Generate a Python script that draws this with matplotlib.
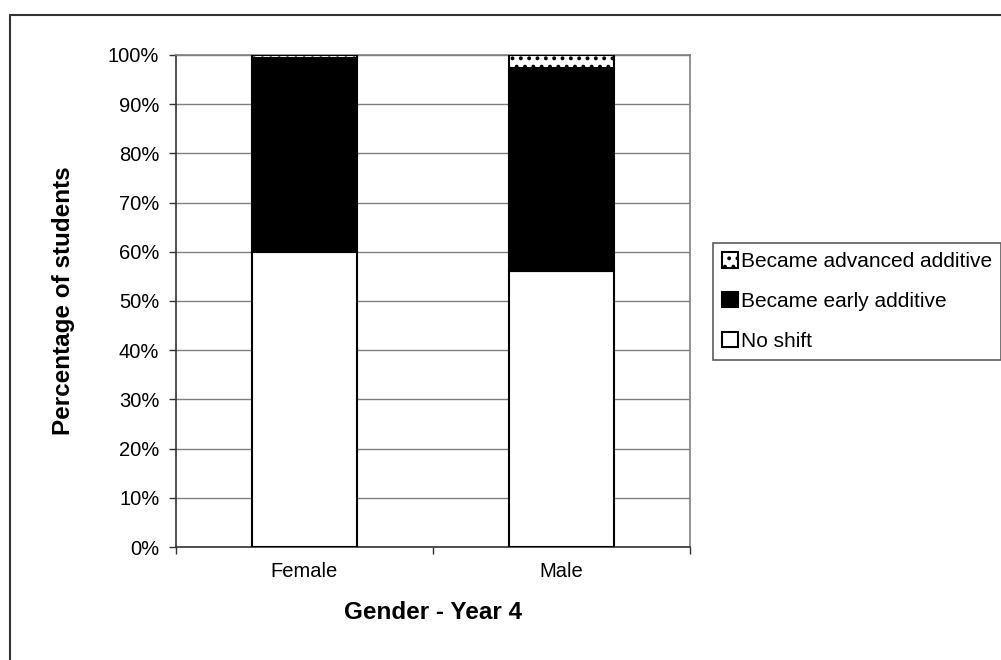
import matplotlib
matplotlib.use("Agg")
import matplotlib.pyplot as plt
from matplotlib.patches import Rectangle
from matplotlib.ticker import FixedLocator, PercentFormatter

plt.rcParams['font.family'] = ['Liberation Sans', 'DejaVu Sans']
plt.rcParams['hatch.linewidth'] = 1.6

# share of students per group, in percent
categories = ['Female', 'Male']
no_shift = [60.0, 56.0]
early_additive = [39.3, 41.4]
advanced_additive = [0.7, 2.6]

fig = plt.figure(figsize=(10.01, 6.6), dpi=100)
ax = fig.add_axes([0.1758, 0.1712, 0.5135, 0.7455])

x = range(len(categories))
w = 0.405
bottom2 = [a + b for a, b in zip(no_shift, early_additive)]

b1 = ax.bar(x, no_shift, w, color='white', edgecolor='black', linewidth=1.5,
            label='No shift', zorder=3)
b2 = ax.bar(x, early_additive, w, bottom=no_shift, color='black', edgecolor='black',
            linewidth=1.5, label='Became early additive', zorder=3)
b3 = ax.bar(x, advanced_additive, w, bottom=bottom2, color='white', edgecolor='black',
            linewidth=1.5, hatch='..', label='Became advanced additive', zorder=3)

ax.set_xlim(-0.5, 1.5)
ax.set_ylim(0, 100)
ax.set_yticks(range(0, 101, 10))
ax.yaxis.set_major_formatter(PercentFormatter(decimals=0))
ax.grid(axis='y', color='#808080', linewidth=1, zorder=0)

ax.set_xticks(list(x))
ax.set_xticklabels(categories)
ax.xaxis.set_minor_locator(FixedLocator([-0.5, 0.5, 1.5]))
ax.tick_params(axis='x', which='major', length=0, pad=11, labelsize=14.5)
ax.tick_params(axis='x', which='minor', length=5, width=1, direction='out', color='#333333')
ax.tick_params(axis='y', length=5, width=1, direction='out', pad=7, labelsize=14.5,
               color='#333333')

for s in ['top', 'right']:
    ax.spines[s].set_color('#808080')
for s in ['left', 'bottom']:
    ax.spines[s].set_color('#333333')
for s in ax.spines.values():
    s.set_linewidth(1.2)

ax.set_ylabel('Percentage of students', fontsize=17.5, fontweight='bold', labelpad=24)
ax.set_xlabel('Gender - Year 4', fontsize=17.5, fontweight='bold', labelpad=14)

leg = fig.legend(handles=[b3, b2, b1], loc='upper left', bbox_to_anchor=(0.712, 0.632),
                 fontsize=15, frameon=True, fancybox=False, handlelength=0.75,
                 handleheight=0.75, handletextpad=0.15, labelspacing=1.0,
                 borderpad=0.45, borderaxespad=0)
leg.get_frame().set_edgecolor('#333333')
leg.get_frame().set_linewidth(1.2)

# outer chart border
fig.patches.append(Rectangle((10 / 1001, -0.1), 1.2, 1.1 - 15 / 660, transform=fig.transFigure,
                             fill=False, edgecolor='#333333', linewidth=1.5))

fig.savefig('out.png', dpi=100)
